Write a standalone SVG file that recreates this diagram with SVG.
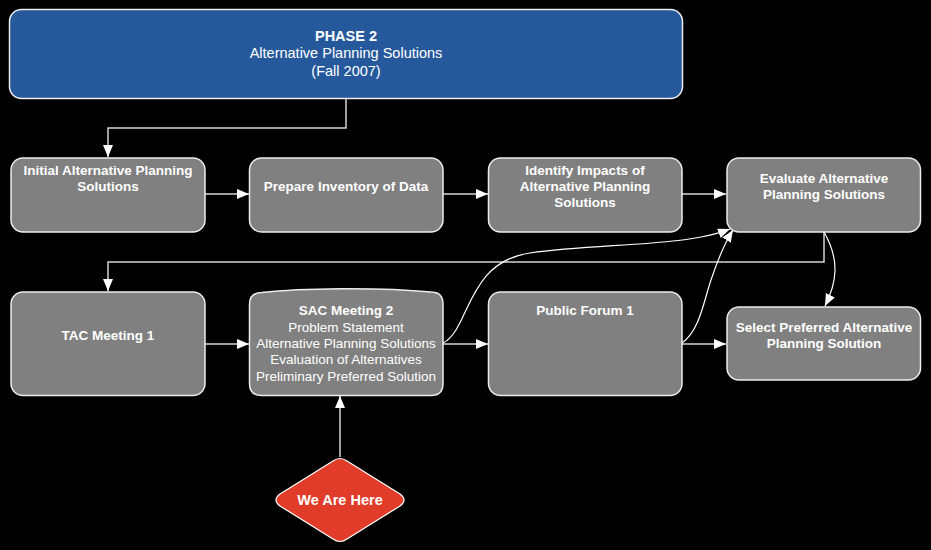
<svg xmlns="http://www.w3.org/2000/svg" width="931" height="550" viewBox="0 0 931 550">
<style>
.box{fill:#808080;stroke:#ececec;stroke-width:1.5}
.t{font-family:"Liberation Sans",Arial,sans-serif;fill:#ffffff;text-anchor:middle}
.b{font-weight:bold;font-size:13.5px}
.r{font-size:13.5px}
.ln{fill:none;stroke:#d4d4d4;stroke-width:1.5}
.cv{fill:none;stroke:#ffffff;stroke-width:1.2}
</style>
<defs>
<marker id="ah" markerUnits="userSpaceOnUse" markerWidth="13" markerHeight="11" refX="12" refY="5" orient="auto">
<path d="M0,0 L12,5 L0,10 Z" fill="#ffffff"/>
</marker>
</defs>
<rect width="931" height="550" fill="#000000"/>
<g id="phase2">
<rect x="9.5" y="9.5" width="673" height="89" rx="12" fill="#26599c" stroke="#ececec" stroke-width="1.5"/>
<text class="t" x="346" y="41" font-size="14.5" font-weight="bold">PHASE 2</text>
<text class="t" x="346" y="58" font-size="14.5">Alternative Planning Solutions</text>
<text class="t" x="346" y="76" font-size="14.5">(Fall 2007)</text>
</g>
<g id="connectors">
<path class="ln" d="M346,98 V128 H108 V157" marker-end="url(#ah)"/>
<path class="ln" d="M205,194 H249" marker-end="url(#ah)"/>
<path class="ln" d="M443,194 H488" marker-end="url(#ah)"/>
<path class="ln" d="M682,194 H726" marker-end="url(#ah)"/>
<path class="ln" d="M824,232 V262 H108 V291" marker-end="url(#ah)"/>
<path class="ln" d="M205,344 H249" marker-end="url(#ah)"/>
<path class="ln" d="M443,344 H488" marker-end="url(#ah)"/>
<path class="ln" d="M682,344 H726" marker-end="url(#ah)"/>
<path class="ln" d="M340,457 V396" marker-end="url(#ah)"/>
<path class="cv" d="M443,343 C470,330 466,262 530,253 C600,243 685,247 730,229" marker-end="url(#ah)"/>
<path class="cv" d="M682,343 C700,330 704,300 711,280 C717,262 724,244 733,230" marker-end="url(#ah)"/>
<path class="cv" d="M824,232 C840,260 837,282 825,306" marker-end="url(#ah)"/>
</g>
<g id="initial">
<rect class="box" x="11" y="158" width="194" height="74" rx="12"/>
<text class="t b" x="108" y="175">Initial Alternative Planning</text>
<text class="t b" x="108" y="191">Solutions</text>
</g>
<g id="inventory">
<rect class="box" x="249.5" y="158" width="193.5" height="74" rx="12"/>
<text class="t b" x="346" y="191">Prepare Inventory of Data</text>
</g>
<g id="impacts">
<rect class="box" x="488.5" y="158" width="193.5" height="74" rx="12"/>
<text class="t b" x="585" y="175">Identify Impacts of</text>
<text class="t b" x="585" y="191">Alternative Planning</text>
<text class="t b" x="585" y="207">Solutions</text>
</g>
<g id="evaluate">
<rect class="box" x="727" y="158" width="193.5" height="74" rx="12"/>
<text class="t b" x="824" y="183">Evaluate Alternative</text>
<text class="t b" x="824" y="199">Planning Solutions</text>
</g>
<g id="tac">
<rect class="box" x="11" y="292" width="194" height="103.5" rx="12"/>
<text class="t b" x="108" y="340">TAC Meeting 1</text>
</g>
<g id="sac">
<path class="box" d="M262,292.5 C300,288 380,287 431,292 Q443,292 443,304 V383.5 Q443,395.5 431,395.5 H261.5 Q249.5,395.5 249.5,383.5 V304.5 Q249.5,292.5 262,292.5 Z"/>
<text class="t b" x="346" y="315">SAC Meeting 2</text>
<text class="t r" x="346" y="332">Problem Statement</text>
<text class="t r" x="346" y="348">Alternative Planning Solutions</text>
<text class="t r" x="346" y="364">Evaluation of Alternatives</text>
<text class="t r" x="346" y="381">Preliminary Preferred Solution</text>
</g>
<g id="forum">
<rect class="box" x="488.5" y="292" width="193.5" height="103.5" rx="12"/>
<text class="t b" x="585" y="315">Public Forum 1</text>
</g>
<g id="select">
<rect class="box" x="727" y="307" width="193.5" height="73" rx="12"/>
<text class="t b" x="824" y="332">Select Preferred Alternative</text>
<text class="t b" x="824" y="348">Planning Solution</text>
</g>
<g id="here">
<path d="M333,461 Q340,456 347,461 L400,494 Q408,500 400,506 L347,539 Q340,544 333,539 L280,506 Q272,500 280,494 Z" fill="#e13b2a" stroke="#ffffff" stroke-width="1.2"/>
<text class="t" x="340" y="505" font-size="14.5" font-weight="bold">We Are Here</text>
</g>
</svg>
